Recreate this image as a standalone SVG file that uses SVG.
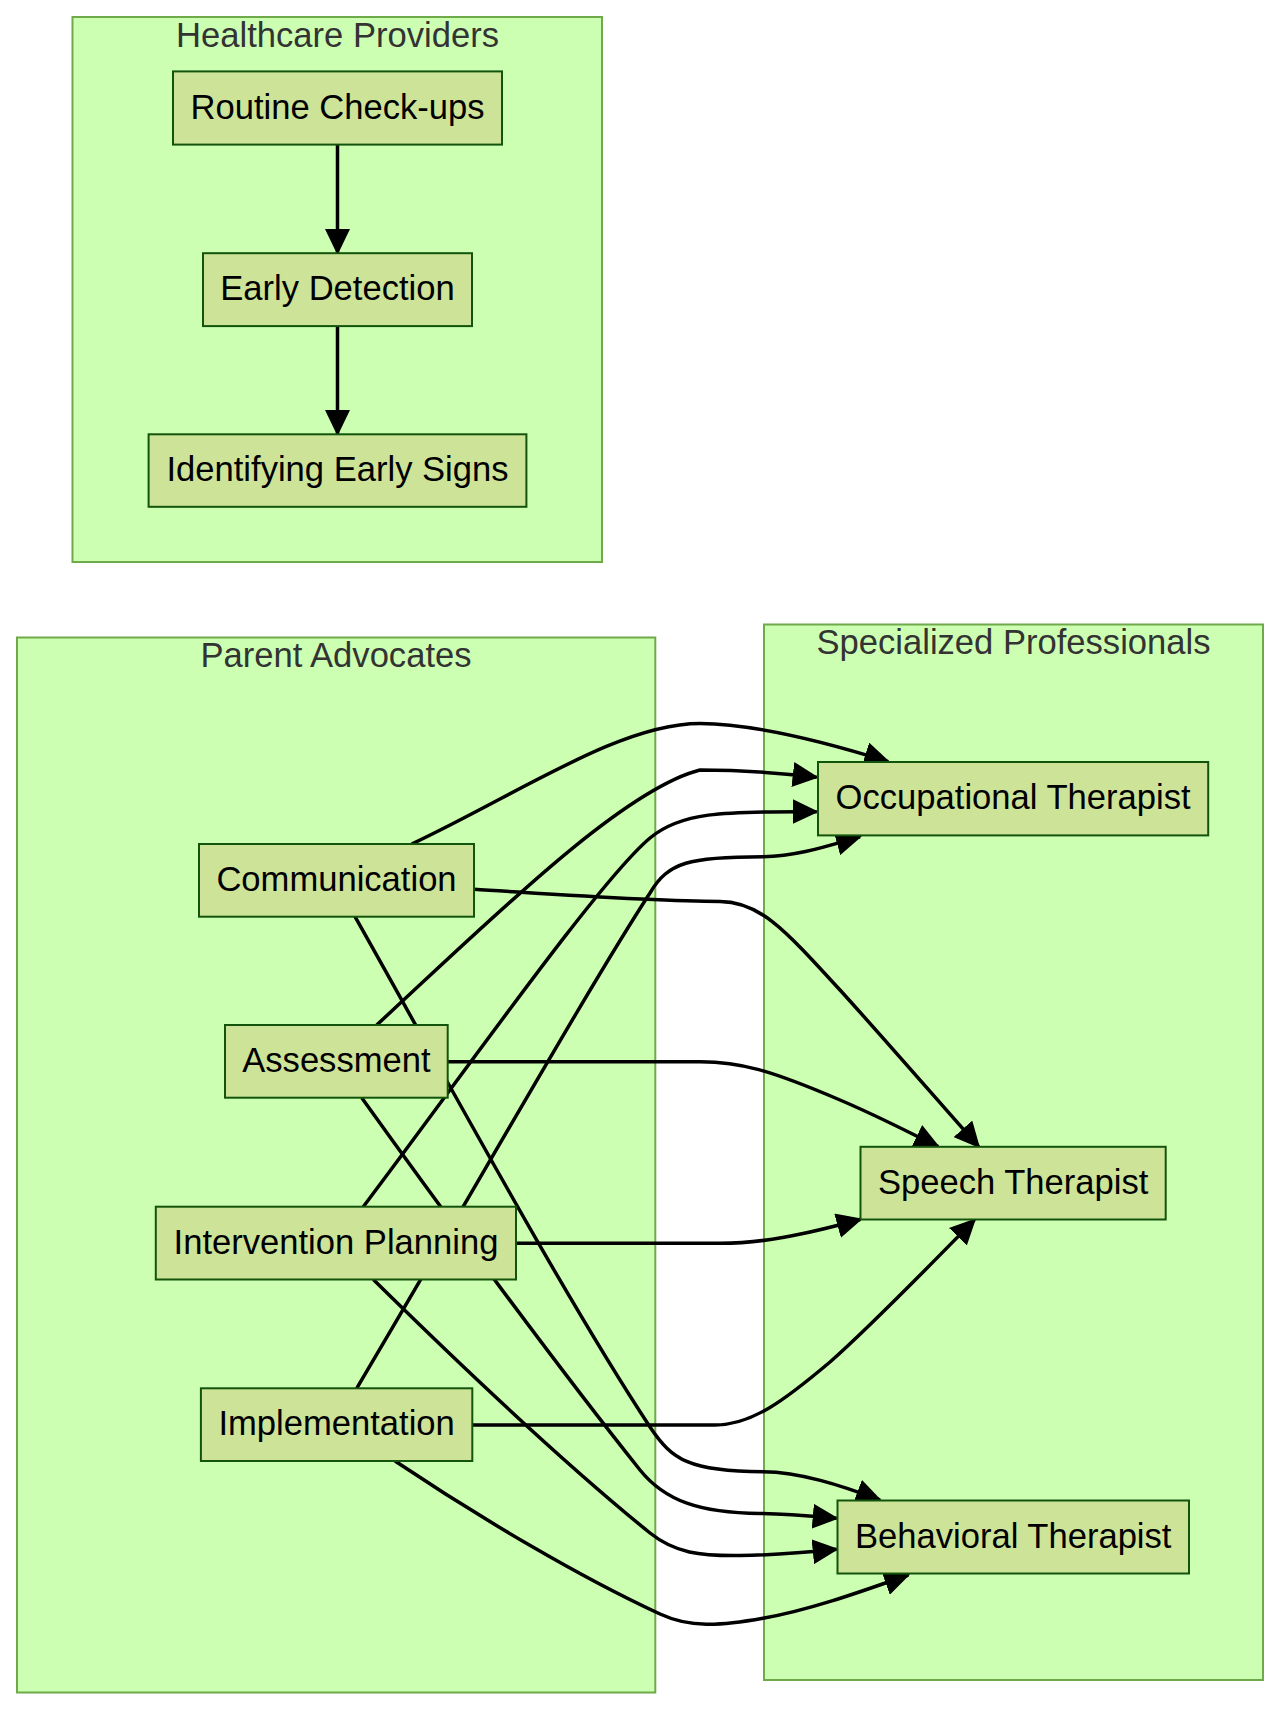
<svg xmlns="http://www.w3.org/2000/svg" width="1280" height="1710" viewBox="0 0 1280 1710">
<defs>
<style>
.cluster rect{fill:#cdffb2;stroke:#6eaa49;stroke-width:2}
.cluster text{font-family:"Liberation Sans",Arial,sans-serif;font-size:34.6px;fill:#333;text-anchor:middle}
.node rect{fill:#cde498;stroke:#13540c;stroke-width:2}
.node text{font-family:"Liberation Sans",Arial,sans-serif;font-size:34.6px;fill:#000;text-anchor:middle}
.edges path{fill:none;stroke:#000;stroke-width:3.5;marker-end:url(#arrow)}
</style>
<marker id="arrow" markerUnits="userSpaceOnUse" markerWidth="26" markerHeight="25" refX="24" refY="12.5" orient="auto">
<path d="M0,0 L26,12.5 L0,25 z" fill="#000"/>
</marker>
</defs>
<rect width="1280" height="1710" fill="#fff"/>
<g id="clusters">
<g id="cluster-healthcare" class="cluster"><rect x="72.5" y="17" width="529.5" height="545"/><text x="337.5" y="47">Healthcare Providers</text></g>
<g id="cluster-parent" class="cluster"><rect x="17" y="637.5" width="638.3" height="1055"/><text x="336" y="667">Parent Advocates</text></g>
<g id="cluster-specialized" class="cluster"><rect x="764" y="624.5" width="499" height="1055.5"/><text x="1013.5" y="654">Specialized Professionals</text></g>
</g>
<g id="connectors" class="edges">
<path d="M337.5,144.6 L337.5,253"/>
<path d="M337.5,326.1 L337.5,434"/>
<path d="M411.7,844 C520,793 620,723.5 700,723.5 C760,724 835,745 888.3,761.7"/>
<path d="M376.7,1025 C480,930 620,790 700,770 C740,770 780,773 816.7,777.3"/>
<path d="M363.3,1206.7 C470,1065 600,880 650,838 C680,812.8 720,811 816.7,811.7"/>
<path d="M356.7,1388.3 C480,1180 590,985 650,893 C668,862 690,856.7 763,856.7 C800,856 830,845 860,836.7"/>
<path d="M474,889.3 C550,894 650,901.5 720,901.5 C760,901.5 785,930 840,990 C880,1034 940,1103 978.8,1146.8"/>
<path d="M447.7,1061.7 L700,1061.7 C740,1061.7 770,1070 840,1100 C880,1117 910,1133 938.3,1146.7"/>
<path d="M516,1243.3 L720,1243.3 C760,1243.3 800,1236 860.7,1219.3"/>
<path d="M472.3,1425 L715,1425 C752,1425 785,1400 830,1362 C870,1327 940,1255 974.7,1219.6"/>
<path d="M355,916.7 C440,1067 560,1290 650,1427 C672,1460 690,1471.7 763,1471.7 C800,1472 840,1485 880,1500"/>
<path d="M361.7,1097.7 C440,1207 560,1370 640,1470 C665,1501 700,1513 760,1513.5 C790,1514 810,1516 836.7,1518.3"/>
<path d="M373.3,1279.5 C450,1355 560,1460 650,1533 C675,1553 700,1556 740,1555.5 C780,1555 810,1552 836.7,1549.3"/>
<path d="M395,1461 C480,1518 580,1577 660,1614 C690,1628 720,1626 763,1618.3 C810,1610 860,1592 908.3,1575"/>
</g>
<g id="nodes">
<g id="node-routine" class="node"><rect x="173" y="71.4" width="329" height="73.2"/><text x="337.5" y="118.7">Routine Check-ups</text></g>
<g id="node-early" class="node"><rect x="203" y="253.2" width="269" height="72.9"/><text x="337.5" y="300.4">Early Detection</text></g>
<g id="node-identify" class="node"><rect x="148.6" y="434.3" width="377.8" height="72.5"/><text x="337.5" y="481.2">Identifying Early Signs</text></g>
<g id="node-communication" class="node"><rect x="199" y="844" width="275" height="72.7"/><text x="336.5" y="891.1">Communication</text></g>
<g id="node-assessment" class="node"><rect x="225" y="1025" width="222.7" height="72.7"/><text x="336.4" y="1072.1">Assessment</text></g>
<g id="node-intervention" class="node"><rect x="155.8" y="1206.7" width="360.2" height="72.8"/><text x="336" y="1253.8">Intervention Planning</text></g>
<g id="node-implementation" class="node"><rect x="200.9" y="1388.3" width="271.4" height="72.7"/><text x="336.6" y="1435.4">Implementation</text></g>
<g id="node-ot" class="node"><rect x="818" y="762" width="390.2" height="73.4"/><text x="1013.1" y="809.4">Occupational Therapist</text></g>
<g id="node-st" class="node"><rect x="860.5" y="1146.8" width="305.2" height="72.7"/><text x="1013.1" y="1193.8">Speech Therapist</text></g>
<g id="node-bt" class="node"><rect x="837.5" y="1500.5" width="351.5" height="73"/><text x="1013.2" y="1547.7">Behavioral Therapist</text></g>
</g>
</svg>
